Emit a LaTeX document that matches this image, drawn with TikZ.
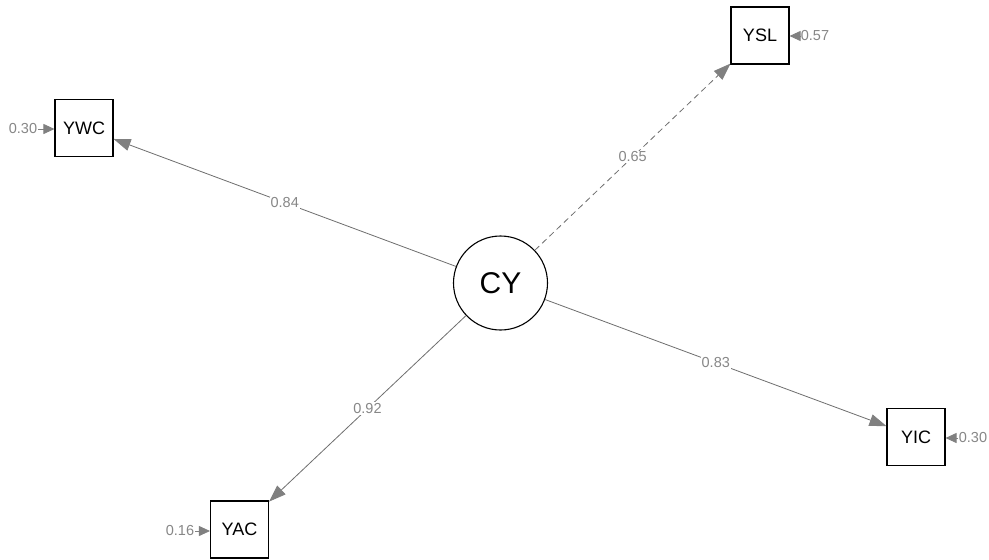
\documentclass[tikz,border=0pt]{standalone}
\usepackage{fontspec}
\setmainfont{Liberation Sans}
\usetikzlibrary{arrows.meta}
\definecolor{edgegray}{RGB}{110,110,110}
\definecolor{headgray}{RGB}{128,128,128}
\definecolor{labgray}{RGB}{135,135,135}
\begin{document}
\begin{tikzpicture}[x=1pt,y=-1pt,
  obs/.style={draw=black,line width=1.1pt,minimum width=58pt,minimum height=57pt,inner sep=0pt,font=\fontsize{18}{18}\selectfont},
  lat/.style={draw=black,line width=1.1pt,circle,minimum size=94pt,inner sep=0pt,font=\fontsize{30}{30}\selectfont},
  load/.style={draw=edgegray,line width=0.8pt,-{Triangle[length=17pt,width=12pt,fill=headgray,color=headgray]}},
  resid/.style={draw=headgray,line width=0.8pt,-{Triangle[length=11pt,width=10pt,fill=headgray,color=headgray]}},
  elab/.style={fill=white,inner sep=1pt,text=labgray,font=\fontsize{14.5}{14.5}\selectfont},
  rlab/.style={inner sep=1pt,text=labgray,font=\fontsize{14.5}{14.5}\selectfont}]
\useasboundingbox[fill=white] (0,0) rectangle (989,560);

% latent factor and its indicators
\node[lat] (CY) at (500.5,283) {CY};
\node[obs] (YWC) at (84,128) {YWC};
\node[obs] (YSL) at (760,35.5) {YSL};
\node[obs] (YIC) at (916,437) {YIC};
\node[obs] (YAC) at (239.5,529.5) {YAC};

% factor loadings
\draw[load] (CY) -- node[elab] {0.84} (YWC);
\draw[load,dashed,dash pattern=on 6pt off 4pt] (CY) -- node[elab] {0.65} (YSL);
\draw[load] (CY) -- node[elab] {0.83} (YIC);
\draw[load] (CY) -- node[elab] {0.92} (YAC);

% residual variances
\node[rlab] (rYWC) at (23,129) {0.30};
\node[rlab] (rYSL) at (815,36) {0.57};
\node[rlab] (rYIC) at (973,438) {0.30};
\node[rlab] (rYAC) at (180,531) {0.16};
\draw[resid] (rYWC.east) -- (YWC.west |- rYWC.east);
\draw[resid] (rYSL.west) -- (YSL.east |- rYSL.west);
\draw[resid] (rYIC.west) -- (YIC.east |- rYIC.west);
\draw[resid] (rYAC.east) -- (YAC.west |- rYAC.east);
\end{tikzpicture}
\end{document}
